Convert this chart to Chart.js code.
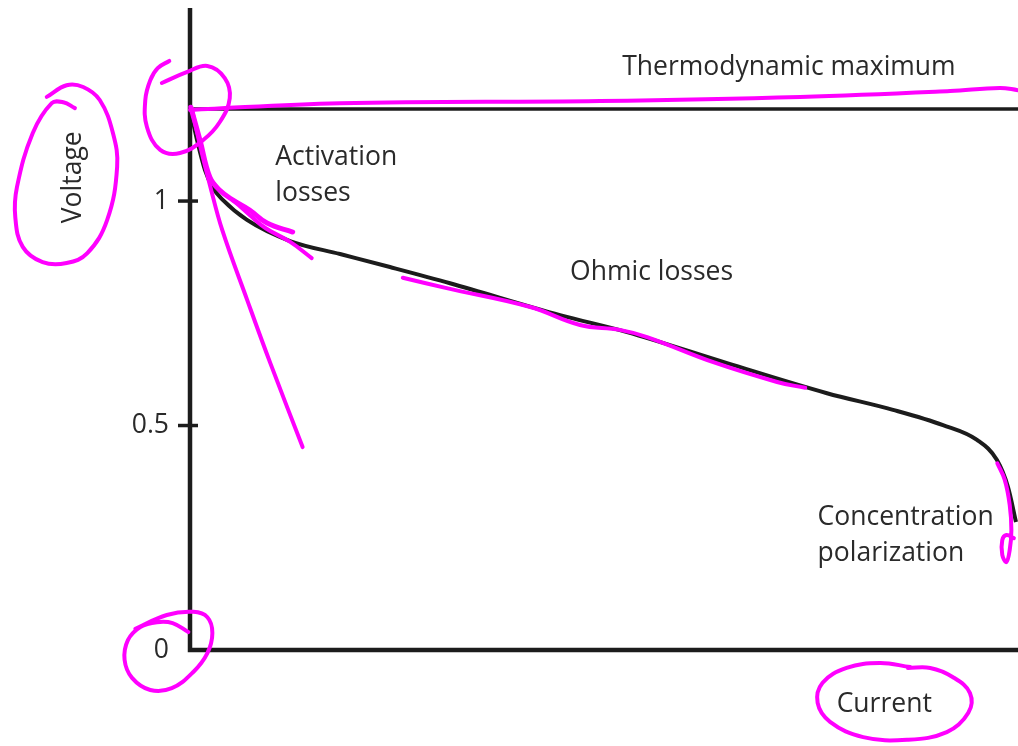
<!DOCTYPE html>
<html>
<head>
<meta charset="utf-8">
<script src="https://cdn.jsdelivr.net/npm/chart.js@4"></script>
<style>
  html, body { margin: 0; padding: 0; background: #fff; }
  #wrap { width: 1018px; height: 746px; }
</style>
</head>
<body>
<div id="wrap"><canvas id="polarization"></canvas></div>
<script>
// fuel cell polarization curve: current (% of limit) vs cell voltage (V)
const current = [0, 0.85, 1.81, 2.78, 3.99, 6.88, 12.08, 18.12, 24.15, 31.4, 44.69, 52.78, 64.86, 76.93, 84.9, 90.94, 95.05, 97.46, 98.79, 99.76]
const voltage = [1.207, 1.136, 1.069, 1.029, 1.002, 0.958, 0.911, 0.882, 0.853, 0.817, 0.746, 0.708, 0.639, 0.572, 0.535, 0.501, 0.468, 0.423, 0.363, 0.285]
const thermoMax = 1.205
const yTicks = [0, 0.5, 1]

// magenta pen marks drawn over the figure, [current, voltage]
const penThermo = [[0, 1.203], [18.1, 1.218], [49.5, 1.223], [73.7, 1.232], [91.8, 1.245], [97.8, 1.252], [100, 1.247]]
const penOrigin = [[-3.4, 1.263], [-0.4, 1.287], [2.1, 1.301], [4.2, 1.274], [4.8, 1.229], [3.6, 1.176], [1.6, 1.136], [-1.2, 1.107], [-3.6, 1.114], [-5.2, 1.165], [-5.4, 1.225], [-4.8, 1.269], [-3.9, 1.296], [-2.5, 1.312]]
const penVoltage = [[-13.9, 1.207], [-15.3, 1.22], [-16.7, 1.218], [-19, 1.151], [-20.9, 1.031], [-21.1, 0.964], [-20.2, 0.898], [-17.8, 0.864], [-14.9, 0.862], [-12.4, 0.884], [-10, 0.958], [-8.8, 1.076], [-9.3, 1.151], [-10.9, 1.225], [-12.9, 1.254], [-14.9, 1.258], [-17.3, 1.232]]
const penLinear = [[0.2, 1.207], [1.2, 1.125], [2.4, 1.036], [3.9, 0.935], [6.9, 0.78], [9.7, 0.639], [13.6, 0.452]]
const penActA = [[0.1, 1.209], [1.2, 1.136], [2.4, 1.053], [3.6, 1.024], [5.2, 1.002], [7.2, 0.98], [9.3, 0.951], [12.4, 0.931]]
const penActB = [[5.2, 1.002], [7.2, 0.969], [9.1, 0.94], [12.1, 0.909], [14.7, 0.873]]
const penOhmic = [[25.7, 0.829], [31, 0.806], [41.1, 0.764], [47.1, 0.724], [51.9, 0.713], [55.2, 0.697], [63.2, 0.641], [70.9, 0.597], [74.3, 0.584]]
const penConc = [[97.5, 0.416], [98.4, 0.379], [99, 0.323], [99.2, 0.267], [99, 0.223], [98.6, 0.196], [98.1, 0.212], [98.1, 0.245], [98.6, 0.256], [99.5, 0.249]]
const penZero = [[-0.2, 0.04], [-2.1, 0.06], [-4, 0.062], [-6, 0.051], [-7.5, 0.022], [-7.9, -0.022], [-7, -0.062], [-4.8, -0.089], [-2.2, -0.085], [0.4, -0.049], [2.1, -0.007], [2.7, 0.038], [2.1, 0.073], [0.4, 0.085], [-2.8, 0.078], [-6.6, 0.047]]
const penCurrent = [[87, -0.038], [83.3, -0.029], [79.3, -0.04], [76.4, -0.073], [75.8, -0.118], [77.3, -0.16], [81.3, -0.194], [86.6, -0.2], [91.4, -0.183], [94, -0.14], [94.2, -0.096], [92.1, -0.06], [89.4, -0.04], [86.7, -0.04]]

// text anchors in data units (left edge, baseline)
const notes = [
  { lines: ['Thermodynamic maximum'], x: 52.2, y: 1.281 },
  { lines: ['Activation', 'losses'], x: 10.3, y: 1.08 },
  { lines: ['Ohmic losses'], x: 45.9, y: 0.824 },
  { lines: ['Concentration', 'polarization'], x: 75.8, y: 0.278 },
  { lines: ['Current'], x: 78.1, y: -0.138 },
]
const yTitle = { text: 'Voltage', x: -13.2, y: 1.053 }

const ink = '#1c1c1c'
const textInk = '#2a2a2a'
const pen = '#ff00ff'
const font = "26.5px 'Open Sans'"

const pairs = arr => arr.map(([x, y]) => ({ x, y }))

const penLine = (pts, width) => ({
  data: pairs(pts),
  showLine: true,
  borderColor: pen,
  borderWidth: width,
  tension: 0.4,
  borderCapStyle: 'round',
  borderJoinStyle: 'round',
  pointRadius: 0,
  clip: false,
  order: 0,
})

const decor = {
  id: 'decor',
  beforeDatasetsDraw(chart) {
    const { ctx, chartArea: a, scales: { x, y } } = chart
    ctx.save()
    // axes
    ctx.strokeStyle = ink
    ctx.lineWidth = 4.5
    ctx.lineJoin = 'miter'
    ctx.beginPath()
    ctx.moveTo(a.left, a.top)
    ctx.lineTo(a.left, a.bottom)
    ctx.lineTo(a.right, a.bottom)
    ctx.stroke()
    // tick marks crossing the y axis, and their labels
    ctx.lineWidth = 3.5
    ctx.fillStyle = textInk
    ctx.font = font
    yTicks.forEach(v => {
      const py = y.getPixelForValue(v)
      if (v > 0) {
        ctx.beginPath()
        ctx.moveTo(a.left - 12, py)
        ctx.lineTo(a.left + 8, py)
        ctx.stroke()
      }
      ctx.textAlign = 'right'
      ctx.textBaseline = 'middle'
      ctx.fillText(String(v), a.left - 21, py)
    })
    // labels
    ctx.textBaseline = 'alphabetic'
    ctx.textAlign = 'left'
    notes.forEach(n => {
      const px = x.getPixelForValue(n.x)
      const py = y.getPixelForValue(n.y)
      n.lines.forEach((t, i) => ctx.fillText(t, px, py + i * 36))
    })
    ctx.translate(x.getPixelForValue(yTitle.x), y.getPixelForValue(yTitle.y))
    ctx.rotate(-Math.PI / 2)
    ctx.textAlign = 'center'
    ctx.fillText(yTitle.text, 0, 0)
    ctx.restore()
  }
}

new Chart(document.getElementById('polarization'), {
  type: 'scatter',
  data: {
    datasets: [
      penLine(penThermo, 4),
      penLine(penOrigin, 4),
      penLine(penVoltage, 4),
      penLine(penLinear, 4),
      penLine(penActA, 5),
      penLine(penActB, 4),
      penLine(penOhmic, 4),
      penLine(penConc, 4),
      penLine(penZero, 4),
      penLine(penCurrent, 4),
      {
        data: [{ x: 0, y: thermoMax }, { x: 100, y: thermoMax }],
        showLine: true,
        borderColor: ink,
        borderWidth: 3.5,
        pointRadius: 0,
        order: 5,
      },
      {
        data: current.map((c, i) => ({ x: c, y: voltage[i] })),
        showLine: true,
        borderColor: ink,
        borderWidth: 4,
        cubicInterpolationMode: 'monotone',
        pointRadius: 0,
        clip: false,
        order: 5,
      },
    ]
  },
  options: {
    responsive: true,
    maintainAspectRatio: false,
    animation: false,
    layout: { padding: { top: 8, right: 0, bottom: 0, left: 0 } },
    plugins: { legend: { display: false }, tooltip: { enabled: false } },
    scales: {
      x: {
        type: 'linear',
        min: 0,
        max: 100,
        ticks: { display: false },
        grid: { display: false, drawTicks: false },
        border: { display: false },
        afterFit: s => { s.height = 96 },
      },
      y: {
        min: 0,
        max: 1.43,
        grid: { display: false, drawTicks: false },
        border: { display: false },
        ticks: { display: false },
        afterFit: s => { s.width = 190 },
      }
    }
  },
  plugins: [decor]
})
</script>
</body>
</html>
